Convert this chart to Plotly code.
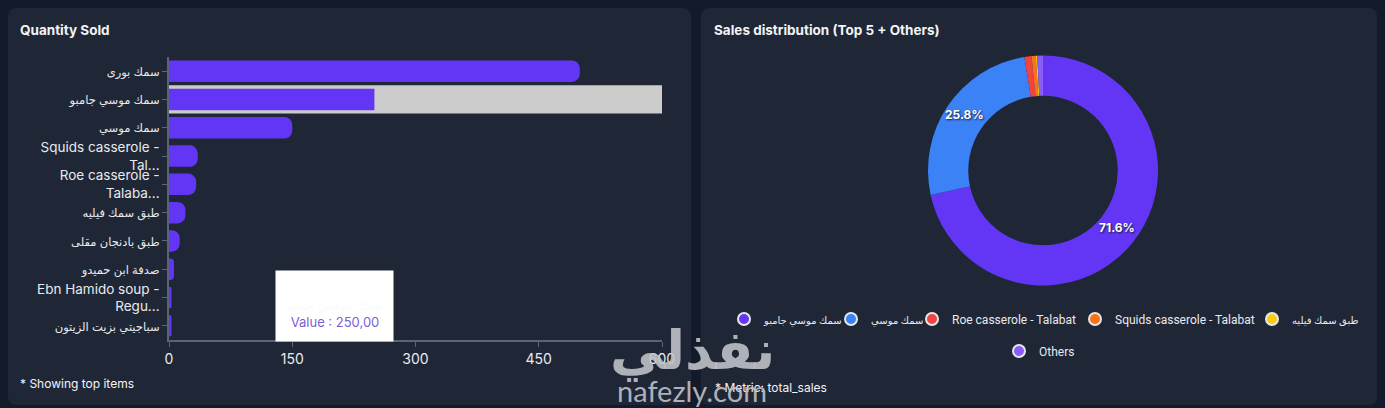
import math
import plotly.graph_objects as go

# ---------------- data ----------------
bar_categories = [
    "سمك بورى",
    "سمك موسي جامبو",
    "سمك موسي",
    "Squids casserole -<br>Tal...",
    "Roe casserole -<br>Talaba...",
    "طبق سمك فيليه",
    "طبق بادنجان مقلى",
    "صدفة ابن حميدو",
    "Ebn Hamido soup -<br>Regu...",
    "سباجيتي بزيت الزيتون",
]
bar_values = [500, 250, 150, 35, 33, 20, 13, 6, 3, 3]
x_ticks = [0, 150, 300, 450, 600]
x_max = 600
highlight_category = "سمك موسي جامبو"
tooltip_value = "250,00"

pie_labels = [
    "سمك موسي جامبو",
    "سمك موسي",
    "Roe casserole - Talabat",
    "Squids casserole - Talabat",
    "طبق سمك فيليه",
    "Others",
]
pie_values = [71.6, 25.8, 1.0, 0.6, 0.2, 0.8]
pie_colors = ["#6236f4", "#3b82f6", "#ef4444", "#f97316", "#facc15", "#8b5cf6"]
pie_min_label_share = 0.05

# ---------------- layout helpers ----------------
W, H = 1385, 408
def px(x):
    return x / W
def py(y):
    return 1 - y / H

def rounded_rect(x0, y0, x1, y1, r):
    rx, ry = r / W, r / H
    X0, X1 = px(x0), px(x1)
    Y0, Y1 = py(y0), py(y1)
    return (f"M {X0+rx},{Y0} L {X1-rx},{Y0} Q {X1},{Y0} {X1},{Y0-ry} "
            f"L {X1},{Y1+ry} Q {X1},{Y1} {X1-rx},{Y1} L {X0+rx},{Y1} "
            f"Q {X0},{Y1} {X0},{Y1+ry} L {X0},{Y0-ry} Q {X0},{Y0} {X0+rx},{Y0} Z")

def is_arabic(s):
    return any("\u0600" <= ch <= "\u06ff" for ch in s)

def styled(s, ar_size):
    return f"<span style='font-size:{ar_size}px'>{s}</span>" if is_arabic(s) else s

PAGE_BG = "#131a29"
CARD_BG = "#1f2737"
AXIS_C = "#5b6474"
TEXT_C = "#e8eaee"
FONT = "Inter, DejaVu Sans, sans-serif"
LEG_FONT = "Roboto, DejaVu Sans, sans-serif"

# donut placement (pixels)
PIE_CX, PIE_CY, PIE_R, PIE_HOLE = 1043, 170.5, 115, 0.65
# legend marker centres (pixels), one legend box per entry
LEGEND_CENTRES = [(744, 319), (851, 319), (932, 319), (1095, 319), (1272, 319), (1019, 351)]

fig = go.Figure()

fig.add_trace(go.Bar(
    y=[highlight_category], x=[x_max], orientation="h",
    marker=dict(color="#cccccc", line=dict(width=0)),
    width=1, hoverinfo="skip", showlegend=False,
))
fig.add_trace(go.Bar(
    y=bar_categories, x=bar_values, orientation="h",
    marker=dict(color="#6236f4", line=dict(width=0), cornerradius=8),
    width=0.76, showlegend=False,
))

fig.add_trace(go.Pie(
    labels=pie_labels, values=pie_values, hole=PIE_HOLE,
    sort=False, direction="clockwise", rotation=0,
    marker=dict(colors=pie_colors, line=dict(width=0)),
    textinfo="none", showlegend=False,
    domain=dict(x=[px(PIE_CX - PIE_R), px(PIE_CX + PIE_R)],
                y=[py(PIE_CY + PIE_R), py(PIE_CY - PIE_R)]),
))

legend_layouts = {}
for i, (lab, col) in enumerate(zip(pie_labels, pie_colors)):
    key = "legend" if i == 0 else f"legend{i+1}"
    fig.add_trace(go.Scatter(
        x=[None], y=[None], mode="markers", name=styled(lab, 10),
        marker=dict(color=col, size=15, symbol="circle",
                    line=dict(color="#e5e7eb", width=1.5)),
        xaxis="x2", yaxis="y2", legend=key,
    ))
    cx, cy = LEGEND_CENTRES[i]
    legend_layouts[key] = dict(
        orientation="h", x=px(cx - 20), xanchor="left", y=py(cy), yanchor="middle",
        font=dict(size=12, color=TEXT_C, family=LEG_FONT),
        bgcolor="rgba(0,0,0,0)", itemsizing="constant",
    )

# percent labels at the middle of each large slice
total = sum(pie_values)
annotations = []
cum = 0.0
r_mid = PIE_R * (1 + PIE_HOLE) / 2
for v in pie_values:
    share = v / total
    mid = (cum + share / 2) * 2 * math.pi
    cum += share
    if share < pie_min_label_share:
        continue
    tx = PIE_CX + r_mid * math.sin(mid)
    ty = PIE_CY - r_mid * math.cos(mid) - 3
    annotations.append(dict(
        text=f"<b>{share*100:.1f}%</b>", x=px(tx), y=py(ty), xref="paper", yref="paper",
        xanchor="center", yanchor="middle", showarrow=False,
        font=dict(size=12, color="white", shadow="1px 1px 2px #1a1a2e"),
    ))

annotations += [
    dict(text="<b>Quantity Sold</b>", x=px(18), y=py(30), xref="paper", yref="paper",
         xanchor="left", yanchor="middle", showarrow=False,
         font=dict(size=13.5, color="#f3f4f6")),
    dict(text="<b>Sales distribution (Top 5 + Others)</b>", x=px(712), y=py(30),
         xref="paper", yref="paper", xanchor="left", yanchor="middle", showarrow=False,
         font=dict(size=13.5, color="#f3f4f6")),
    dict(text="* Showing top items", x=px(18), y=py(383), xref="paper", yref="paper",
         xanchor="left", yanchor="middle", showarrow=False,
         font=dict(size=12, color="#f3f4f6")),
    dict(text="* Metric: total_sales", x=px(713), y=py(387), xref="paper", yref="paper",
         xanchor="left", yanchor="middle", showarrow=False,
         font=dict(size=12, color="#f3f4f6")),
    dict(text=(f"<span style='color:#fbfbfc'>{highlight_category}</span><br>"
               f"<span style='color:#7a5fd8'>Value : {tooltip_value}</span>"),
         x=px(275), y=py(270), xref="paper", yref="paper",
         xanchor="left", yanchor="top", showarrow=False,
         width=95, height=48, borderpad=11, bgcolor="#ffffff",
         align="center", valign="bottom", font=dict(size=13)),
    dict(text="<b>نفذلي</b>", x=px(692), y=py(350), xref="paper", yref="paper",
         xanchor="center", yanchor="middle", showarrow=False,
         font=dict(size=54, color="rgba(195,197,202,0.88)", family="DejaVu Sans")),
    dict(text="nafezly.com", x=px(692), y=py(390), xref="paper", yref="paper",
         xanchor="center", yanchor="middle", showarrow=False,
         font=dict(size=29, color="rgba(195,197,202,0.88)", family="Lato")),
]

fig.update_layout(
    width=W, height=H,
    margin=dict(l=0, r=0, t=0, b=0, autoexpand=False),
    paper_bgcolor=PAGE_BG, plot_bgcolor="rgba(0,0,0,0)",
    font=dict(family=FONT, color=TEXT_C, size=13),
    barmode="overlay",
    xaxis=dict(
        domain=[px(169), px(662)], range=[0, x_max], anchor="y",
        tickvals=x_ticks, showgrid=False, zeroline=False, automargin=False,
        showline=True, linecolor=AXIS_C, linewidth=1.5,
        ticks="outside", ticklen=5, tickcolor=AXIS_C,
        tickfont=dict(size=14, color=TEXT_C), fixedrange=True,
    ),
    yaxis=dict(
        domain=[py(340), py(57)], anchor="x", automargin=False,
        categoryorder="array", categoryarray=bar_categories,
        tickvals=bar_categories, ticktext=[styled(c, 11.5) for c in bar_categories],
        autorange="reversed", showgrid=False, zeroline=False,
        showline=True, linecolor=AXIS_C, linewidth=1.5,
        ticks="outside", ticklen=5, tickcolor=AXIS_C,
        tickfont=dict(size=13.5, color=TEXT_C),
    ),
    xaxis2=dict(domain=[px(1100), px(1101)], visible=False, anchor="y2"),
    yaxis2=dict(domain=[py(200), py(199)], visible=False, anchor="x2"),
    shapes=[
        dict(type="path", path=rounded_rect(8, 8, 691, 405, 9), xref="paper", yref="paper",
             fillcolor=CARD_BG, line=dict(width=0), layer="below"),
        dict(type="path", path=rounded_rect(701, 8, 1377, 405, 9), xref="paper", yref="paper",
             fillcolor=CARD_BG, line=dict(width=0), layer="below"),
    ],
    annotations=annotations,
    **legend_layouts,
)

fig.write_html(
    "out.html",
    config={"displayModeBar": False},
    post_script="document.body.style.margin='0';document.body.style.background='#131a29';",
)
